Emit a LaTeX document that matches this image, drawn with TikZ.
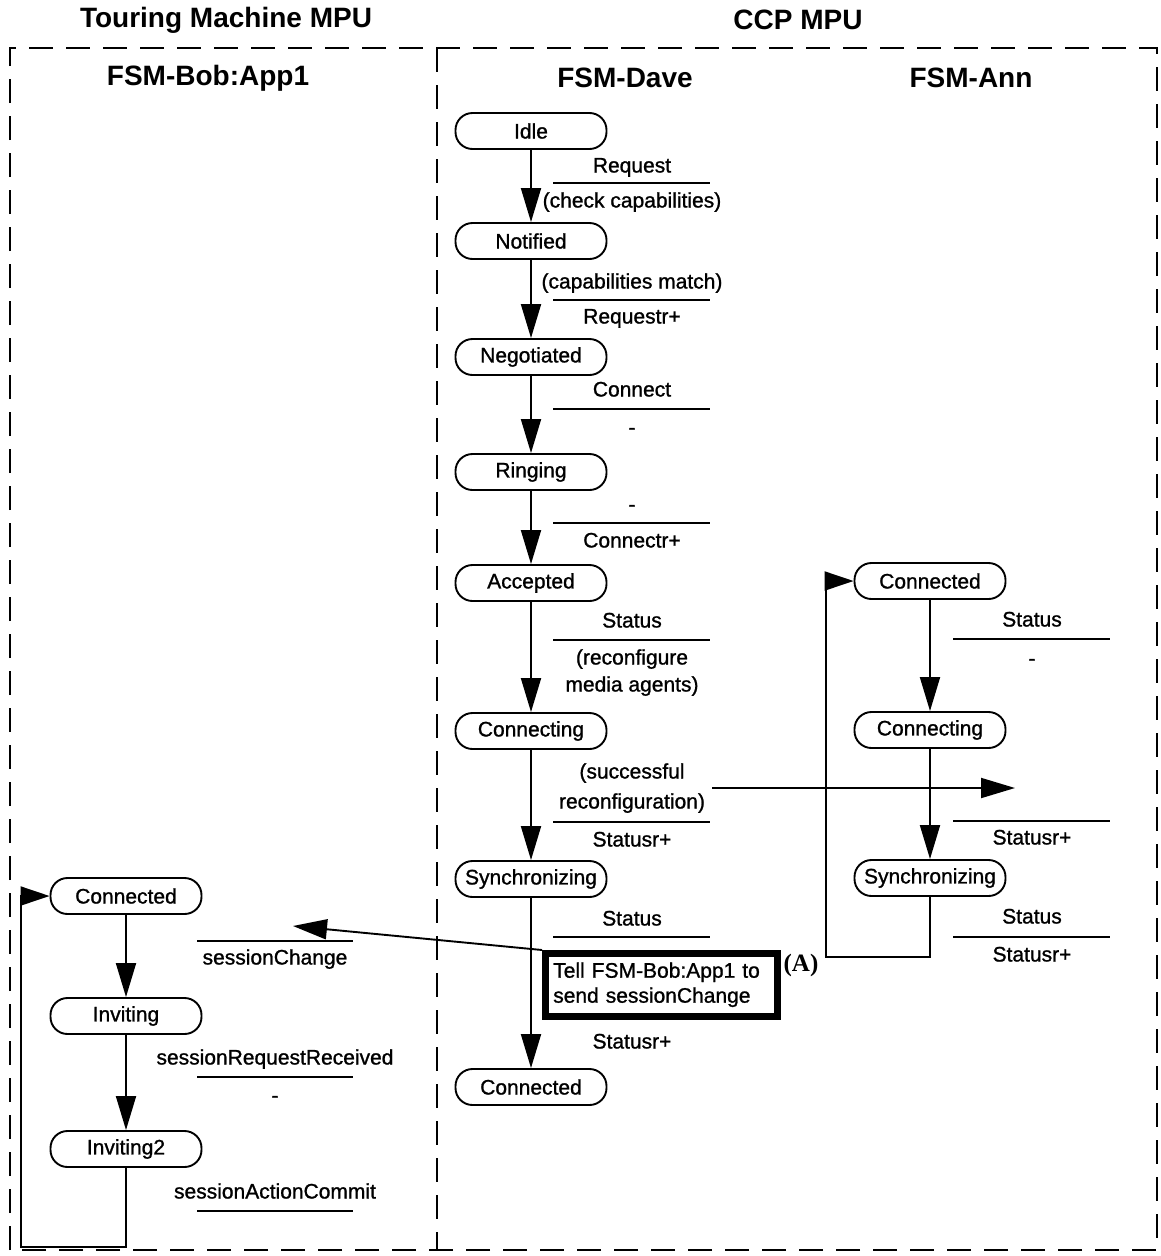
\documentclass[tikz,border=0pt]{standalone}
\usepackage{fontspec}
\setmainfont{Liberation Sans}
\newfontfamily\lblfont{Liberation Sans}[FakeBold=1.1]
\newfontfamily\labelserif{Liberation Serif}
\usetikzlibrary{arrows.meta}

\begin{document}
\begin{tikzpicture}[x=1pt,y=-1pt,
  state/.style={draw, line width=1.9pt, rounded corners=17pt,
    minimum width=151pt, minimum height=36pt, inner sep=0pt,
    font=\lblfont\fontsize{21}{24}\selectfont},
  lbl/.style={font=\lblfont\fontsize{21}{24}\selectfont, inner sep=0pt,
    text height=15pt, text depth=4pt},
  head/.style={font=\fontsize{28}{32}\selectfont\bfseries, inner sep=0pt},
  trans/.style={line width=1.9pt, -{Triangle[length=34pt,width=20pt]}},
  loopline/.style={line width=1.9pt, -{Triangle[length=29pt,width=19pt]}},
  bar/.style={line width=1.9pt},
  frame/.style={line width=2pt, dash pattern=on 24pt off 13pt},
]
\useasboundingbox (0,0) rectangle (1160,1256);

% dashed partition frames
\draw[frame] (10,1250) -- (10,48) -- (1157,48) -- (1157,1250) -- cycle;
\draw[frame] (437,48) -- (437,1250);

% headings
\node[head] (hTM)  at (226,20) {Touring Machine MPU};
\node[head] (hCCP) at (798,20) {CCP MPU};
\node[head] (hBob) at (208,78) {FSM-Bob:App1};
\node[head] (hDave) at (625,78) {FSM-Dave};
\node[head] (hAnn) at (971,78) {FSM-Ann};

% FSM-Dave states
\node[state] (d1) at (531,131) {Idle};
\node[state] (d2) at (531,241) {Notified};
\node[state] (d3) at (531,357) {Negotiated};
\node[state] (d4) at (531,472) {Ringing};
\node[state] (d5) at (531,583) {Accepted};
\node[state] (d6) at (531,731) {Connecting};
\node[state] (d7) at (531,879) {Synchronizing};
\node[state] (d8) at (531,1087) {Connected};

\draw[trans] (d1) -- (d2);
\draw[trans] (d2) -- (d3);
\draw[trans] (d3) -- (d4);
\draw[trans] (d4) -- (d5);
\draw[trans] (d5) -- (d6);
\draw[trans] (d6) -- (d7);
\draw[trans] (d7) -- (d8);

% FSM-Dave transition labels
\node[lbl] (t1a) at (632,167) {Request};
\draw[bar] (553,183) -- (710,183);
\node[lbl] (t1b) at (632,202) {(check capabilities)};

\node[lbl] (t2a) at (632,283) {(capabilities match)};
\draw[bar] (553,300) -- (710,300);
\node[lbl] (t2b) at (632,318) {Requestr+};

\node[lbl] (t3a) at (632,391) {Connect};
\draw[bar] (553,409) -- (710,409);
\node[lbl] (t3b) at (632,429) {-};

\node[lbl] (t4a) at (632,506) {-};
\draw[bar] (553,523) -- (710,523);
\node[lbl] (t4b) at (632,542) {Connectr+};

\node[lbl] (t5a) at (632,622) {Status};
\draw[bar] (553,640) -- (710,640);
\node[lbl] (t5b) at (632,659) {(reconfigure};
\node[lbl] (t5c) at (632,686) {media agents)};

\node[lbl] (t6a) at (632,773) {(successful};
\node[lbl] (t6b) at (632,803) {reconfiguration)};
\draw[bar] (553,822) -- (710,822);
\node[lbl] (t6c) at (632,841) {Statusr+};

\node[lbl] (t7a) at (632,920) {Status};
\draw[bar] (553,937) -- (710,937);
\node[lbl] (t7b) at (632,1043) {Statusr+};

% action box on the Synchronizing -> Connected transition
\node[draw, line width=6.5pt, anchor=north west, align=left,
  text width=216pt, inner xsep=8pt, inner ysep=4pt, minimum height=63pt,
  font=\lblfont\fontsize{21}{25}\selectfont] (tell) at (542,950)
  {Tell FSM-Bob:App1 to\\send sessionChange};
\node[font=\labelserif\bfseries\fontsize{25}{27}\selectfont, inner sep=0pt] (labA) at (801,965) {(A)};

% signal out of FSM-Dave
\coordinate (sigStart) at (712,788);
\coordinate (sigEnd) at (1015,788);
\draw[trans] (sigStart) -- (sigEnd);

% FSM-Ann states
\node[state] (a1) at (930,581) {Connected};
\node[state] (a2) at (930,730) {Connecting};
\node[state] (a3) at (930,878) {Synchronizing};

\draw[trans] (a1) -- (a2);
\draw[trans] (a2) -- (a3);
\coordinate (annLoop) at (826,957);
\draw[loopline] (a3.south) |- (annLoop) |- (a1.west);

\node[lbl] (u1a) at (1032,621) {Status};
\draw[bar] (953,639) -- (1110,639);
\node[lbl] (u1b) at (1032,660) {-};

\draw[bar] (953,821) -- (1110,821);
\node[lbl] (u2b) at (1032,839) {Statusr+};

\node[lbl] (u3a) at (1032,918) {Status};
\draw[bar] (953,937) -- (1110,937);
\node[lbl] (u3b) at (1032,956) {Statusr+};

% FSM-Bob:App1 states
\node[state] (b1) at (126,896) {Connected};
\node[state] (b2) at (126,1016) {Inviting};
\node[state] (b3) at (126,1149) {Inviting2};

\draw[trans] (b1) -- (b2);
\draw[trans] (b2) -- (b3);
\coordinate (bobLoop) at (21,1247);
\draw[loopline] (b3.south) |- (bobLoop) |- (b1.west);

\draw[bar] (197,941) -- (353,941);
\node[lbl] (v1b) at (275,959) {sessionChange};

\node[lbl] (v2a) at (275,1059) {sessionRequestReceived};
\draw[bar] (197,1077) -- (353,1077);
\node[lbl] (v2b) at (275,1097) {-};

\node[lbl] (v3a) at (275,1193) {sessionActionCommit};
\draw[bar] (197,1211) -- (353,1211);

% request from FSM-Dave to FSM-Bob:App1
\coordinate (bobIn) at (293,926);
\draw[trans] (tell.north west) -- (bobIn);

\end{tikzpicture}
\end{document}
